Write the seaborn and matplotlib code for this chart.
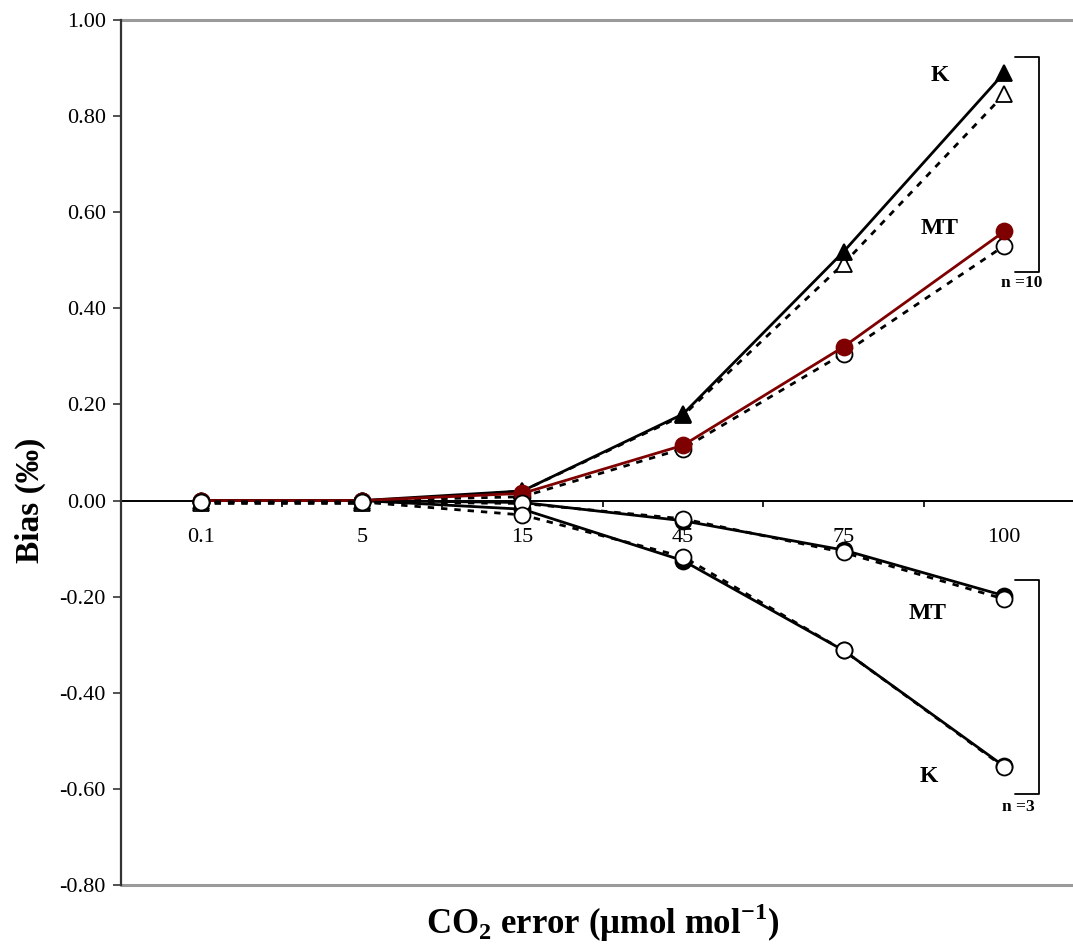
import matplotlib
matplotlib.use("Agg")
import matplotlib.pyplot as plt
import seaborn as sns
import numpy as np
import pandas as pd

# ---- data ----
categories = ["0.1", "5", "15", "45", "75", "100"]
k10_solid = [0.0, 0.0, 0.02, 0.18, 0.518, 0.89]
k10_dashed = [-0.006, -0.006, 0.02, 0.177, 0.493, 0.845]
mt10_solid = [0.0, 0.0, 0.015, 0.115, 0.32, 0.56]
mt10_dashed = [-0.003, 0.0, 0.008, 0.108, 0.306, 0.53]
mt3_solid = [0.0, 0.0, -0.004, -0.042, -0.103, -0.198]
mt3_dashed = [-0.003, -0.003, -0.006, -0.038, -0.108, -0.205]
k3_solid = [0.0, 0.0, -0.018, -0.125, -0.312, -0.553]
k3_dashed = [-0.003, -0.003, -0.03, -0.117, -0.312, -0.555]
yticks = [-0.8, -0.6, -0.4, -0.2, 0.0, 0.2, 0.4, 0.6, 0.8, 1.0]

sns.set_theme(style="white")
plt.rcParams["font.family"] = ["Liberation Serif", "DejaVu Serif"]
plt.rcParams["text.color"] = "black"
plt.rcParams["axes.labelcolor"] = "black"
plt.rcParams["xtick.color"] = "black"
plt.rcParams["ytick.color"] = "black"
plt.rcParams["mathtext.fontset"] = "custom"
plt.rcParams["mathtext.rm"] = "Liberation Serif"
plt.rcParams["mathtext.bf"] = "Liberation Serif:bold"

fig = plt.figure(figsize=(10.73, 9.48), dpi=100)
ax = fig.add_axes([121 / 1073, 1 - 885 / 948, (1084.5 - 121) / 1073, 865 / 948])

dark_red = "#7f0000"
lw = 2.0
dash = (0, (2.3, 2.5))
ms = 11.5

series = [
    # values, color, linestyle, marker, facecolor, edgecolor, zorder
    (k10_dashed, "black", dash, "^", "white", "black", 3),
    (k10_solid, "black", "-", "^", "black", "black", 4),
    (mt10_dashed, "black", dash, "o", "white", "black", 3),
    (mt10_solid, dark_red, "-", "o", dark_red, dark_red, 4),
    (mt3_solid, "black", "-", "o", "black", "black", 3),
    (mt3_dashed, "black", dash, "o", "white", "black", 4),
    (k3_solid, "black", "-", "o", "black", "black", 3),
    (k3_dashed, "black", dash, "o", "white", "black", 4),
]

for vals, col, ls, mk, fc, ec, z in series:
    df = pd.DataFrame({"cat": categories, "val": vals})
    sns.lineplot(data=df, x="cat", y="val", ax=ax, color=col, linestyle=ls,
                 linewidth=lw, marker=mk, markersize=ms,
                 markerfacecolor=fc, markeredgecolor=ec, markeredgewidth=1.3,
                 zorder=z, sort=False)

ax.set_xlim(-0.5, 5.5)
ax.set_ylim(-0.8, 1.0)

# spines
for s in ["top", "right"]:
    ax.spines[s].set_visible(False)
ax.spines["left"].set_color("#333333")
ax.spines["left"].set_linewidth(1.6)
ax.spines["bottom"].set_position(("data", 0))
ax.spines["bottom"].set_color("black")
ax.spines["bottom"].set_linewidth(1.4)
ax.spines["bottom"].set_zorder(2)
ax.axhline(1.0, color="#9a9a9a", lw=2.2, zorder=1, clip_on=False)
ax.axhline(-0.8, color="#9a9a9a", lw=2.2, zorder=1, clip_on=False)

ax.set_yticks(yticks)
ax.set_yticklabels([f"{v:.2f}" for v in yticks], fontsize=16)
ax.tick_params(axis="y", direction="out", length=5.8, width=1.2, pad=5,
               left=True, color="#333333", labelcolor="black")

ax.set_xticks(range(len(categories)))
ax.set_xticklabels(categories, fontsize=16)
ax.set_xticks(np.arange(0.5, 6.0, 1.0), minor=True)
ax.tick_params(axis="x", which="major", length=0, pad=20, bottom=True,
               labelcolor="black")
ax.tick_params(axis="x", which="minor", direction="out", length=4.5, width=1.2,
               bottom=True, color="black")

ax.set_xlabel("")
ax.set_ylabel("")
fig.text(30 / 1073, 1 - 500 / 948, "Bias (‰)", rotation=90, fontsize=24,
         fontweight="bold", ha="center", va="center", color="black")
fig.text(603 / 1073, 1 - 923 / 948, r"CO$_\mathbf{2}$ error (μmol mol$^{\mathbf{-1}}$)",
         fontsize=25, fontweight="bold", ha="center", va="center", color="black")

# annotations
ax.text(4.596, 0.884, "K", fontsize=17, fontweight="bold", ha="center", va="center")
ax.text(4.596, 0.566, "MT", fontsize=17, fontweight="bold", ha="center", va="center")
ax.text(4.52, -0.235, "MT", fontsize=17, fontweight="bold", ha="center", va="center")
ax.text(4.53, -0.574, "K", fontsize=17, fontweight="bold", ha="center", va="center")
ax.text(5.11, 0.452, "n =10", fontsize=12.5, fontweight="bold", ha="center", va="center")
ax.text(5.09, -0.637, "n =3", fontsize=12.5, fontweight="bold", ha="center", va="center")

# brackets
bx0, bx1 = 5.07, 5.217
ax.plot([bx0, bx1, bx1, bx0], [0.922, 0.922, 0.476, 0.476], color="black", lw=1.3,
        clip_on=False, zorder=5)
ax.plot([bx0, bx1, bx1, bx0], [-0.166, -0.166, -0.61, -0.61], color="black", lw=1.3,
        clip_on=False, zorder=5)

if ax.get_legend() is not None:
    ax.get_legend().remove()

fig.savefig("out.png", dpi=100)
